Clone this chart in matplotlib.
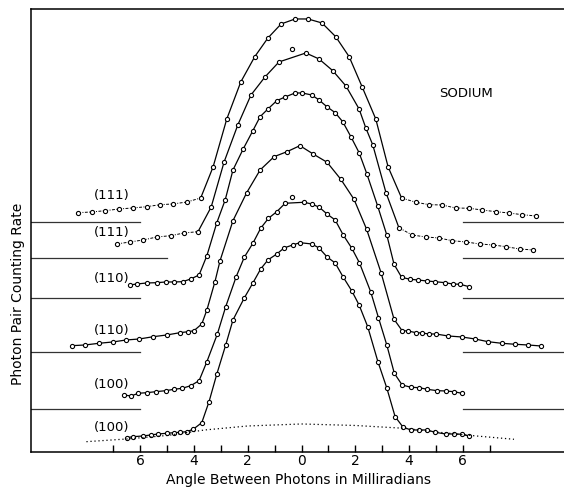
import matplotlib
matplotlib.use("Agg")
import matplotlib.pyplot as plt
import numpy as np

# Angle between photons (milliradians) and counting rate (arbitrary units),
# read off the plot, top curve first.
c1_x = [-8.31, -7.80, -7.30, -6.78, -6.28, -5.75, -5.26, -4.78, -4.26, -3.75,
        -3.29, -2.78, -2.26, -1.74, -1.25, -0.76, -0.24, 0.24, 0.76, 1.27,
        1.77, 2.25, 2.76, 3.22,
        3.72, 4.25, 4.74, 5.22, 5.73, 6.23, 6.71, 7.22, 7.71, 8.20, 8.72]
c1_y = [239.3, 240, 241.3, 243, 244, 245.3, 247.3, 248, 250, 254,
        285, 333, 370, 395.3, 414, 428, 433, 433, 429, 415.3,
        395.3, 365.3, 333, 285,
        254, 249.7, 247.3, 247, 244, 243.7, 242, 240.3, 239, 237.3, 236]

c2_x = [-6.87, -6.38, -5.89, -5.38, -4.86, -4.37, -3.85,
        -3.36, -2.88, -2.37, -1.88, -1.36, -0.84, 0.16, 0.65, 1.16, 1.65,
        2.14, 2.39, 2.65, 3.14,
        3.62, 4.11, 4.62, 5.11, 5.59, 6.12, 6.62, 7.12, 7.60, 8.11, 8.61]
c2_y = [208, 210, 212, 215, 216.3, 219, 220.3,
        245, 290, 327, 357, 375, 390, 399, 393, 381.3, 366,
        343, 324, 307, 259.3,
        224.3, 217, 215, 214, 211.3, 210, 208, 207, 205.3, 203, 202]

c3_x = [-6.38, -6.12, -5.75, -5.38, -5.05, -4.74, -4.42, -4.12, -3.81,
        -3.52, -3.15, -2.84, -2.55, -2.17, -1.81, -1.54, -1.25, -0.92, -0.61,
        -0.24, 0.02, 0.38, 0.65, 0.94, 1.25, 1.53, 1.84, 2.14, 2.43, 2.83,
        3.17, 3.44,
        3.72, 4.03, 4.33, 4.65, 4.96, 5.33, 5.62, 5.89, 6.23]
c3_y = [167, 168, 169, 169.3, 170, 170, 170.3, 173, 177,
        196.3, 229.3, 252, 282, 303, 321.3, 335.3, 343, 351.3, 355,
        359, 359, 357, 352, 345.3, 339.3, 330.3, 315, 299.3, 278, 246,
        217, 187.7,
        174.7, 172.7, 172, 171, 170.3, 169.3, 168, 167.7, 165.3]

c4_x = [-8.54, -8.05, -7.53, -7.02, -6.52, -6.03, -5.51, -5.01, -4.52, -4.21,
        -4.00, -3.71,
        -3.52, -3.22, -3.03, -2.55, -2.04, -1.54, -1.02, -0.54, -0.06, 0.43,
        0.95, 1.46, 1.95, 2.42, 2.96, 3.44,
        3.74, 3.96, 4.25, 4.47, 4.74, 4.99, 5.45, 5.96, 6.45, 6.93, 7.44, 7.94,
        8.42, 8.90]
c4_y = [106.3, 107, 108.7, 110, 112, 113, 115.3, 117, 119.3, 120.3,
        121.3, 128,
        142, 170.3, 191.3, 231.3, 259.3, 282, 295.3, 300.3, 306.3, 298,
        289.7, 272.7, 252.7, 222.7, 179, 132.7,
        121.3, 121, 119.3, 119, 118, 118, 116, 115, 113, 110.3, 108.7, 107.7,
        107, 106]

c5_x = [-6.62, -6.34, -6.07, -5.75, -5.42, -5.05, -4.74, -4.43, -4.12, -3.81,
        -3.52, -3.13, -2.82, -2.43, -2.13, -1.81, -1.52, -1.23, -0.92, -0.61,
        0.09, 0.38, 0.66, 0.96, 1.25, 1.55, 1.87, 2.15, 2.57, 2.86, 3.17, 3.45,
        3.74, 4.07, 4.37, 4.67, 5.04, 5.36, 5.66, 5.96]
c5_y = [57, 56, 58.7, 59.3, 60.3, 61.3, 62.7, 63.7, 66.3, 71.3,
        90.3, 118, 145.3, 175.3, 194.7, 208.7, 223.7, 233.7, 240.3, 248.7,
        249.7, 248, 244.7, 237.7, 232, 217, 203.7, 189.3, 160.3, 134.3, 107, 78.7,
        67, 64.7, 64.3, 62.7, 61.3, 61, 60.3, 58.7]

c6_x = [-6.50, -6.26, -5.90, -5.61, -5.33, -5.01, -4.74, -4.52, -4.27, -4.03,
        -3.71, -3.44, -3.15, -2.82, -2.55, -2.13, -1.81, -1.52, -1.25, -0.92,
        -0.65, -0.33, -0.06, 0.38, 0.65, 0.95, 1.25, 1.54, 1.87, 2.14, 2.46,
        2.84, 3.17, 3.48,
        3.77, 4.06, 4.37, 4.67, 4.96, 5.36, 5.67, 5.97, 6.23]
c6_y = [14.3, 15.3, 16, 17, 18, 18.7, 19.3, 19.7, 20.3, 22.7,
        29.3, 50.3, 78, 107, 132, 154, 169, 183, 192, 198,
        204, 207, 209.3, 208, 204, 195, 189, 175.3, 161, 147, 125.3,
        90.3, 64, 35.3,
        25, 22, 22, 22, 19.7, 18, 18, 17.7, 16]

# stray points that lie off the drawn curves
stray_x = [-0.35, -0.34]
stray_y = [403, 255.3]

# dotted broad curve under the bottom run
dot_x = [-8.0, -6.5, -5.0, -3.6, -2.0, 0.0, 2.0, 3.8, 5.0, 6.5, 7.9]
dot_y = [10.3, 13, 16.5, 22, 26, 28, 26.5, 23.7, 20, 16, 12.7]

labels = ["(111)", "(111)", "(110)", "(110)", "(100)", "(100)"]
label_y = [256, 219, 173, 121, 67, 24]
baseline_y = [230, 194, 154, 100, 43]
baseline_left_end = [-6, -5, -6, -6, -6]

curves = [(c1_x, c1_y), (c2_x, c2_y), (c3_x, c3_y),
          (c4_x, c4_y), (c5_x, c5_y), (c6_x, c6_y)]

fig = plt.figure(figsize=(5.64, 4.90), dpi=100)
ax = fig.add_axes([0.0550, 0.0776, 0.9450, 0.9041])

x_lo, x_hi = -10.06, 9.76
ax.set_xlim(x_lo, x_hi)
ax.set_ylim(0, 443)

mk = dict(marker='o', markersize=3.0, markerfacecolor='white',
          markeredgecolor='black', markeredgewidth=0.8)

for i, (x, y) in enumerate(curves):
    x = np.array(x)
    y = np.array(y)
    core = np.abs(x) <= 3.9
    if i < 2:
        # tails of the two top runs are dash-dotted
        ax.plot(x[core], y[core], color='black', lw=0.9)
        for side in (x <= -3.6, x >= 3.6):
            ax.plot(x[side], y[side], color='black', lw=0.7,
                    linestyle=(0, (3, 1.5, 1, 1.5)))
    else:
        ax.plot(x, y, color='black', lw=0.9)
    ax.plot(x, y, linestyle='none', **mk)
    ax.text(-7.05, label_y[i], labels[i], ha='center', va='center',
            fontsize=9.5)

ax.plot(stray_x, stray_y, linestyle='none', **mk)
ax.plot(dot_x, dot_y, color='black', lw=0.9, linestyle=(0, (1, 2.2)))

# zero levels of the upper runs
for yb, xe in zip(baseline_y, baseline_left_end):
    ax.plot([x_lo, xe], [yb, yb], color='#333333', lw=0.9)
    ax.plot([6, x_hi], [yb, yb], color='#333333', lw=0.9)

ax.text(6.1, 358, "SODIUM", ha='center', va='center', fontsize=9.5)

ax.set_xticks(np.arange(-7, 8, 1))
ax.set_xticklabels(["" if v % 2 else str(abs(v)) for v in range(-7, 8)])
ax.tick_params(axis='x', direction='in', length=5, width=1, labelsize=10,
               pad=1.5)
ax.set_yticks([])
ax.spines['right'].set_visible(False)
for s in ('left', 'bottom', 'top'):
    ax.spines[s].set_linewidth(1.1)

fig.text(0.530, 0.020, "Angle Between Photons in Milliradians",
         ha='center', va='center', fontsize=10)
fig.text(0.032, 0.40, "Photon Pair Counting Rate", ha='center',
         va='center', rotation=90, fontsize=10)

fig.savefig("out.png", dpi=100)
